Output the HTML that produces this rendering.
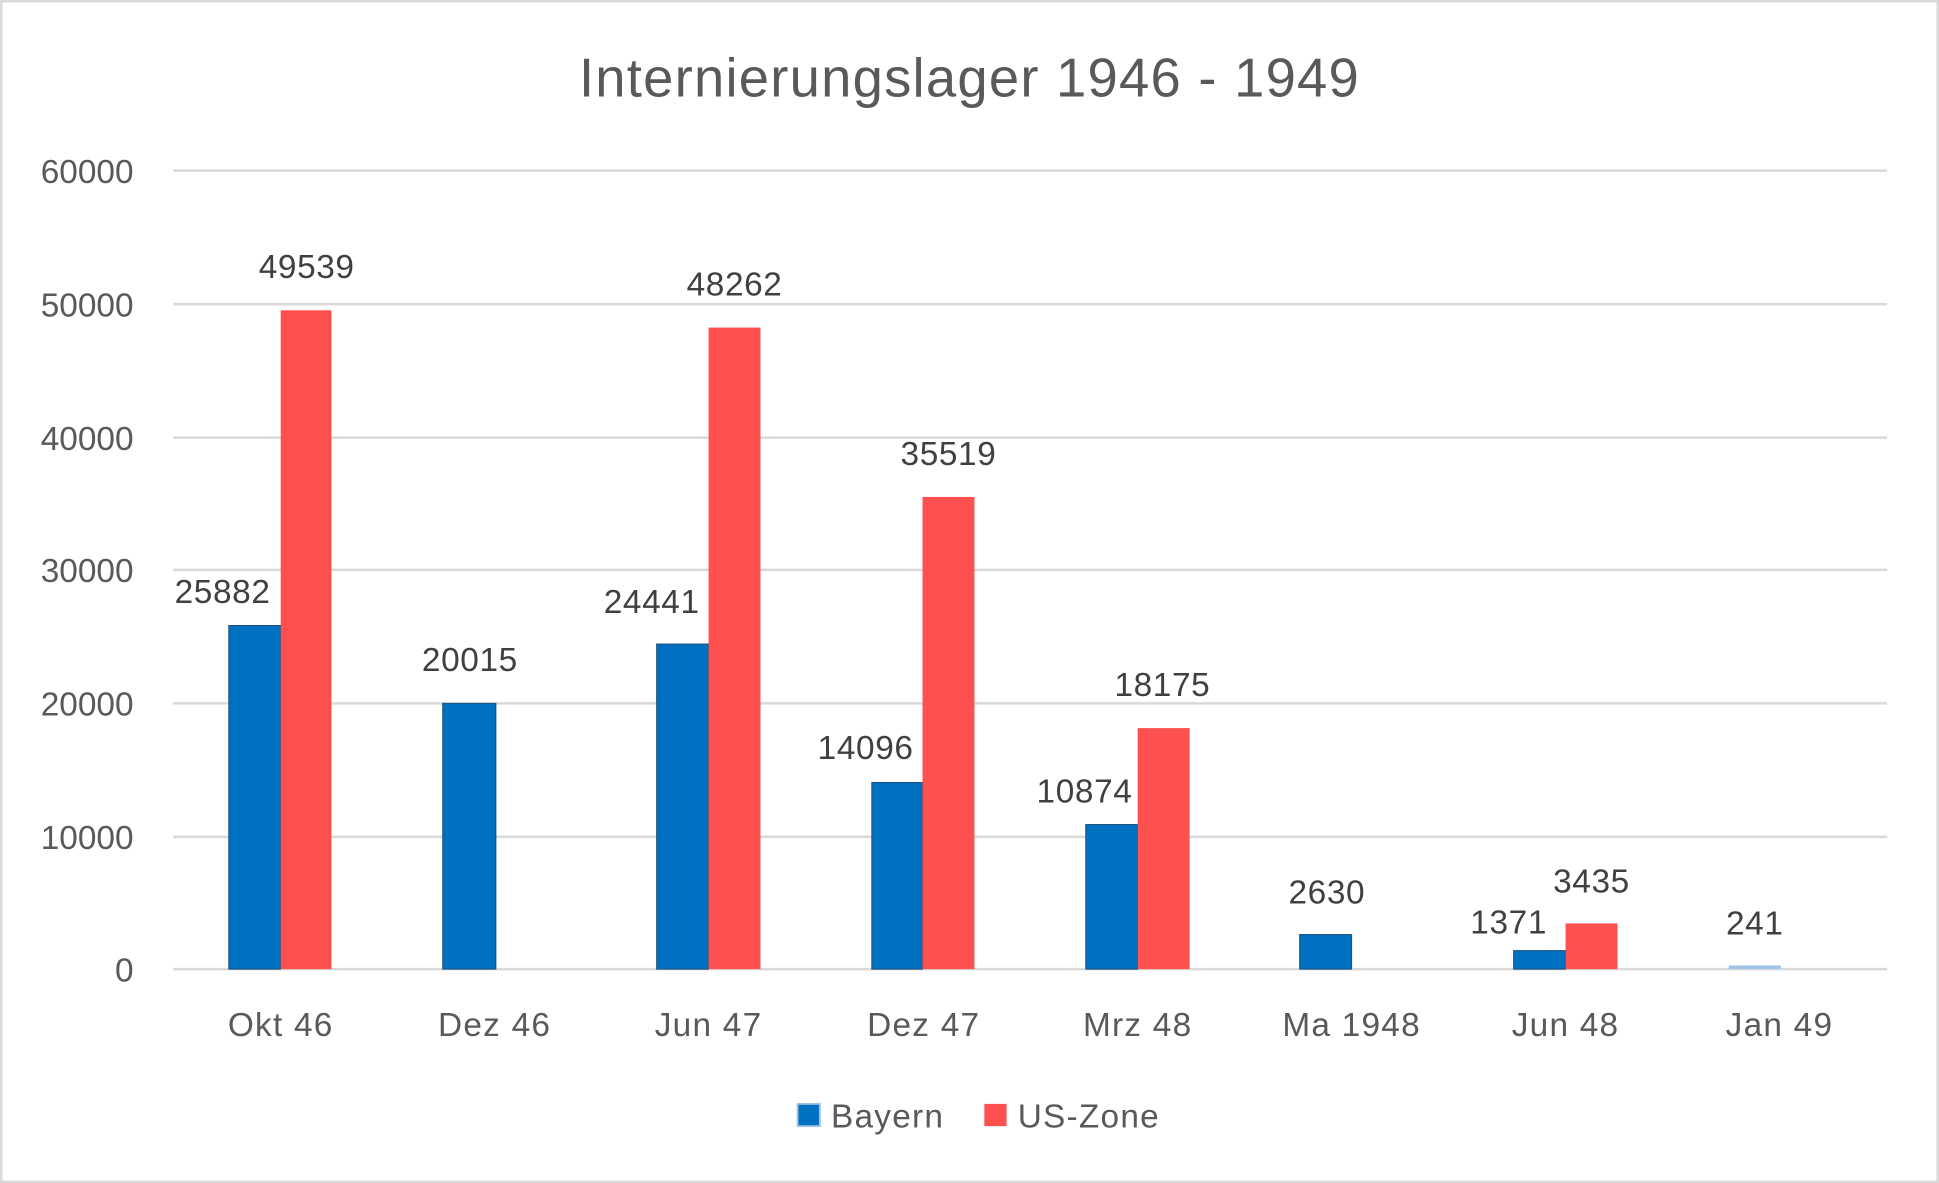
<!DOCTYPE html>
<html><head><meta charset="utf-8"><style>html,body{margin:0;padding:0;background:#fff}svg{display:block}</style></head>
<body>
<svg width="1939" height="1183" viewBox="0 0 1568 957" preserveAspectRatio="none" xmlns="http://www.w3.org/2000/svg" font-family="Liberation Sans, sans-serif" fill="#595959">
<rect x="1" y="1" width="1566" height="955" fill="#fff" stroke="#d9d9d9" stroke-width="2"/>
<text x="784" y="78" font-size="44" text-anchor="middle" letter-spacing="1">Internierungslager 1946 - 1949</text>
<g stroke="#d9d9d9" stroke-width="2">
<line x1="140" x2="1526" y1="138" y2="138"/><line x1="140" x2="1526" y1="246" y2="246"/>
<line x1="140" x2="1526" y1="354" y2="354"/><line x1="140" x2="1526" y1="461" y2="461"/>
<line x1="140" x2="1526" y1="569" y2="569"/><line x1="140" x2="1526" y1="677" y2="677"/>
<line x1="140" x2="1526" y1="784" y2="784"/>
</g>
<g font-size="27" text-anchor="end">
<text x="108" y="148">60000</text><text x="108" y="256">50000</text><text x="108" y="364">40000</text>
<text x="108" y="471">30000</text><text x="108" y="579">20000</text><text x="108" y="687">10000</text><text x="108" y="794">0</text>
</g>
<g fill="#0070C0" stroke="#1f4e79" stroke-width="0.8">
<rect x="185" y="506" width="42" height="278"/>
<rect x="358" y="569" width="43" height="215"/>
<rect x="531" y="521" width="42" height="263"/>
<rect x="705" y="633" width="41" height="151"/>
<rect x="878" y="667" width="42" height="117"/>
<rect x="1051" y="756" width="42" height="28"/>
<rect x="1224" y="769" width="42" height="15"/>
</g>
<rect x="1398" y="781" width="42" height="3" fill="#9DC3E6"/>
<g fill="#FF5050">
<rect x="227" y="251" width="41" height="533"/>
<rect x="573" y="265" width="42" height="519"/>
<rect x="746" y="402" width="42" height="382"/>
<rect x="920" y="589" width="42" height="195"/>
<rect x="1266" y="747" width="42" height="37"/>
</g>
<g font-size="27" text-anchor="middle" fill="#404040" letter-spacing="0.5">
<text x="248" y="225">49539</text><text x="180" y="488">25882</text>
<text x="380" y="543">20015</text><text x="594" y="239">48262</text><text x="527" y="496">24441</text>
<text x="767" y="376">35519</text><text x="700" y="614">14096</text>
<text x="940" y="563">18175</text><text x="877" y="649">10874</text>
<text x="1073" y="731">2630</text><text x="1287" y="722">3435</text><text x="1220" y="755">1371</text>
<text x="1419" y="756">241</text>
</g>
<g font-size="27" text-anchor="middle" letter-spacing="1">
<text x="227" y="838">Okt 46</text><text x="400" y="838">Dez 46</text><text x="573" y="838">Jun 47</text>
<text x="747" y="838">Dez 47</text><text x="920" y="838">Mrz 48</text><text x="1093" y="838">Ma 1948</text>
<text x="1266" y="838">Jun 48</text><text x="1439" y="838">Jan 49</text>
</g>
<rect x="645" y="893" width="18" height="18" fill="#0070C0" stroke="#9DC3E6" stroke-width="1.5"/>
<text x="672" y="912" font-size="27" letter-spacing="1">Bayern</text>
<rect x="796" y="893" width="18" height="18" fill="#FF5050"/>
<text x="823" y="912" font-size="27" letter-spacing="1">US-Zone</text>
</svg>
</body></html>
